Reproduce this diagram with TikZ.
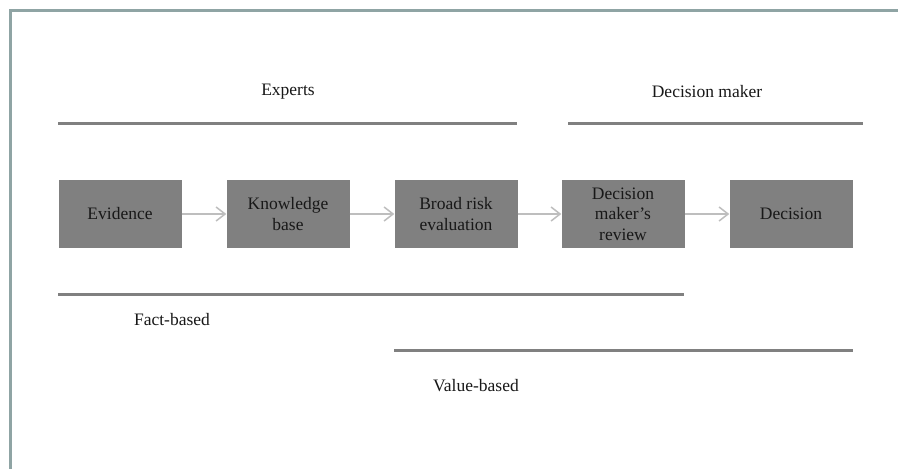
\documentclass[tikz,border=0pt]{standalone}
\usepackage{fontspec}
\setmainfont{Liberation Serif}
\usetikzlibrary{arrows.meta}
\definecolor{framecol}{RGB}{143,164,164}
\definecolor{boxfill}{RGB}{128,128,128}
\definecolor{barcol}{RGB}{128,128,128}
\definecolor{arrowcol}{RGB}{190,190,190}
\definecolor{inkcol}{RGB}{24,24,24}
\begin{document}
\begin{tikzpicture}[x=1pt,y=-1pt,
  stagebox/.style={fill=boxfill, draw=none, minimum width=123pt, minimum height=68pt,
    inner sep=0pt, align=center, text=inkcol,
    font=\fontsize{17.5}{20.5}\selectfont},
  label/.style={text=inkcol, inner sep=0pt, font=\fontsize{17.5}{20.5}\selectfont},
  flow/.style={draw=arrowcol, line width=1.5pt, -{Straight Barb[length=9pt,width=14pt,line width=1.5pt]}},
  bar/.style={draw=barcol, line width=3pt}]
  % canvas and frame
  \useasboundingbox (0,0) rectangle (898,469);
  \fill[white] (0,0) rectangle (898,469);
  \draw[framecol, line width=3pt] (10.5,469) -- (10.5,10) -- (898,10);

  % process stages
  \node[stagebox] (evidence)  at (120,214) {Evidence};
  \node[stagebox] (knowledge) at (288,214) {Knowledge\\base};
  \node[stagebox] (broad)     at (456,214) {Broad risk\\evaluation};
  \node[stagebox] (review)    at (623,214) {Decision\\maker’s\\review};
  \node[stagebox] (decision)  at (791,214) {Decision};

  \draw[flow] (evidence)  -- (knowledge);
  \draw[flow] (knowledge) -- (broad);
  \draw[flow] (broad)     -- (review);
  \draw[flow] (review)    -- (decision);

  % actors above the chain
  \node[label] (experts) at (288,92) {Experts};
  \node[label] (dm)      at (707,92) {Decision maker};
  \coordinate (expL) at (58,123);  \coordinate (expR) at (517,123);
  \coordinate (dmL)  at (568,123); \coordinate (dmR)  at (863,123);
  \draw[bar] (expL) -- (expR);
  \draw[bar] (dmL) -- (dmR);

  % character of the stages below the chain
  \coordinate (factL) at (58,294);   \coordinate (factR) at (684,294);
  \coordinate (valL)  at (394,350);  \coordinate (valR)  at (853,350);
  \draw[bar] (factL) -- (factR);
  \draw[bar] (valL) -- (valR);
  \node[label] (fact)  at (172,320) {Fact-based};
  \node[label] (value) at (476,386) {Value-based};
\end{tikzpicture}
\end{document}
